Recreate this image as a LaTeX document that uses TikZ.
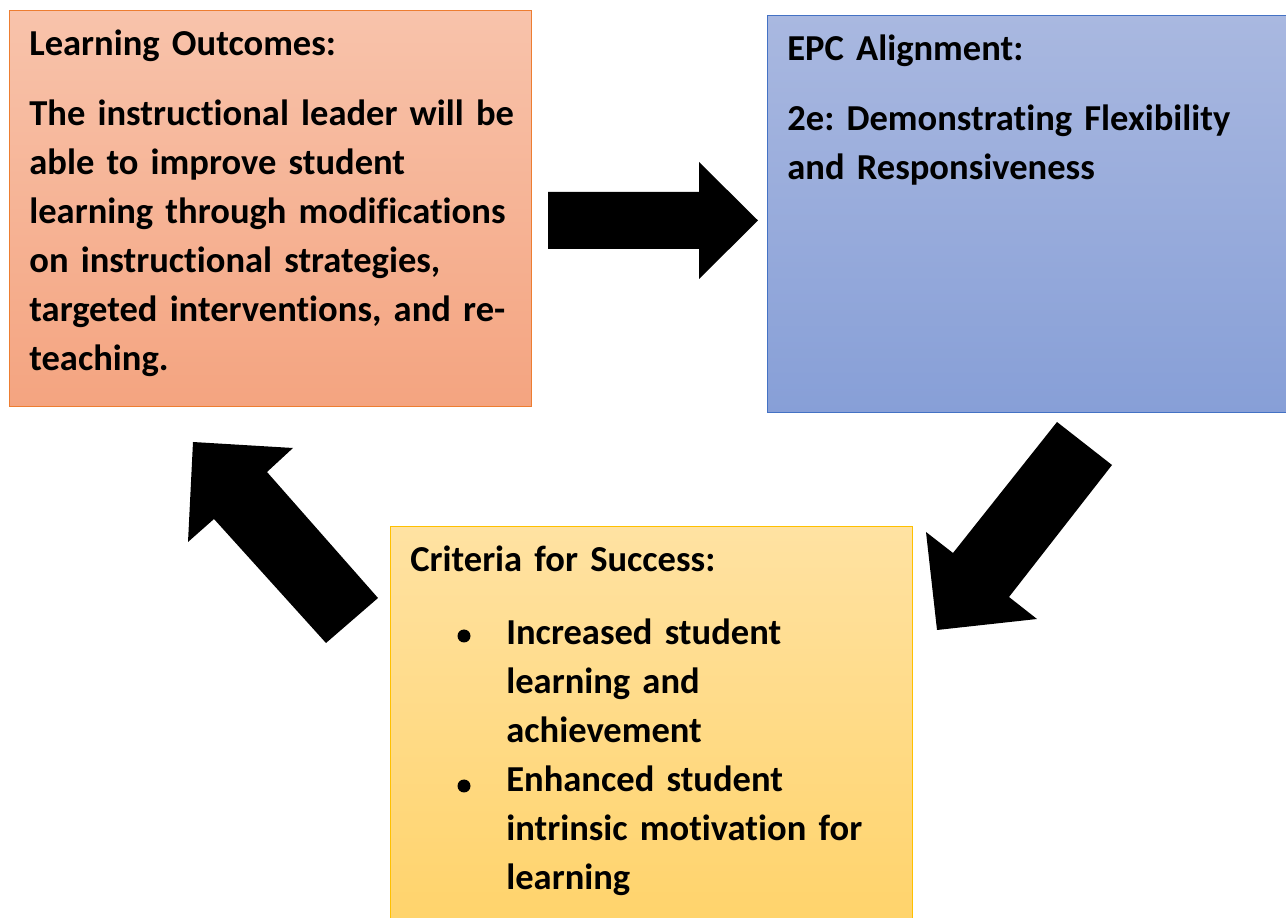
\documentclass[tikz,border=0pt]{standalone}
\usepackage{fontspec}
\setmainfont[Ligatures=NoCommon]{Carlito}
\usetikzlibrary{positioning, calc}
\definecolor{outtop}{HTML}{F8C3AB}
\definecolor{outbottom}{HTML}{F4A480}
\definecolor{outline}{HTML}{ED7D31}
\definecolor{epctop}{HTML}{A9B8E0}
\definecolor{epcbottom}{HTML}{879FD7}
\definecolor{epcline}{HTML}{4472C4}
\definecolor{crittop}{HTML}{FFE2A2}
\definecolor{critbottom}{HTML}{FFD36A}
\definecolor{critline}{HTML}{FFC000}
\frenchspacing

\tikzset{
  box/.style={rectangle, anchor=north west, inner sep=0pt, line width=0.8pt},
  boxtext/.style={anchor=base west, inner sep=0pt, align=left, text width=10.8cm,
    font=\fontsize{20.8pt}{27.78pt}\selectfont\bfseries},
  bulletdot/.style={circle, fill=black, inner sep=0pt, minimum size=0.26cm},
  blockarrow/.style={fill=black}
}

\begin{document}
\begin{tikzpicture}[x=0.02cm, y=-0.02cm]
    \useasboundingbox (0,0) rectangle (1286,918);

    % Boxes
    \node[box, draw=outline, top color=outtop, bottom color=outbottom,
          minimum width=10.44cm, minimum height=7.92cm] (outcomes) at (9,10) {};
    \node[box, draw=epcline, top color=epctop, bottom color=epcbottom,
          minimum width=10.4cm, minimum height=7.94cm] (alignment) at (767,15) {};
    \node[box, draw=critline, top color=crittop, bottom color=critbottom,
          minimum width=10.44cm, minimum height=8.1cm] (criteria) at (390,526) {};

    % Learning outcomes
    \node[boxtext] (outcomesTitle) at ([shift={(20,46)}]outcomes.north west) {Learning Outcomes:};
    \node[boxtext] (outcomesBody) at ([shift={(20,116)}]outcomes.north west)
        {The instructional leader will be\\able to improve student\\learning through modifications\\on instructional strategies,\\targeted interventions, and re-\\teaching.};

    % EPC alignment
    \node[boxtext] (alignmentTitle) at ([shift={(20,46)}]alignment.north west) {EPC Alignment:};
    \node[boxtext] (alignmentBody) at ([shift={(20,116)}]alignment.north west)
        {2e: Demonstrating Flexibility\\and Responsiveness};

    % Criteria for success
    \node[boxtext] (criteriaTitle) at ([shift={(20,46)}]criteria.north west) {Criteria for Success:};
    \node[bulletdot] (bulletOne) at (464,636) {};
    \node[bulletdot] (bulletTwo) at (464,786) {};
    \node[boxtext, text width=8.5cm] (criteriaBody) at ([shift={(116,119)}]criteria.north west)
        {Increased student\\learning and\\achievement\\Enhanced student\\intrinsic motivation for\\learning};

    % Arrows
    \fill[blockarrow] (548,192) -- (699,192) -- (699,162) -- (758,220.5) -- (699,279) -- (699,249) -- (548,249) -- cycle;
    \fill[blockarrow] (1057,422) -- (1112,465) -- (1009,597) -- (1037,619) -- (937,630) -- (926,532) -- (953,553) -- cycle;
    \fill[blockarrow] (193,442) -- (293,448) -- (267,472) -- (378,598) -- (326,643) -- (214,519) -- (188,542) -- cycle;
\end{tikzpicture}
\end{document}
